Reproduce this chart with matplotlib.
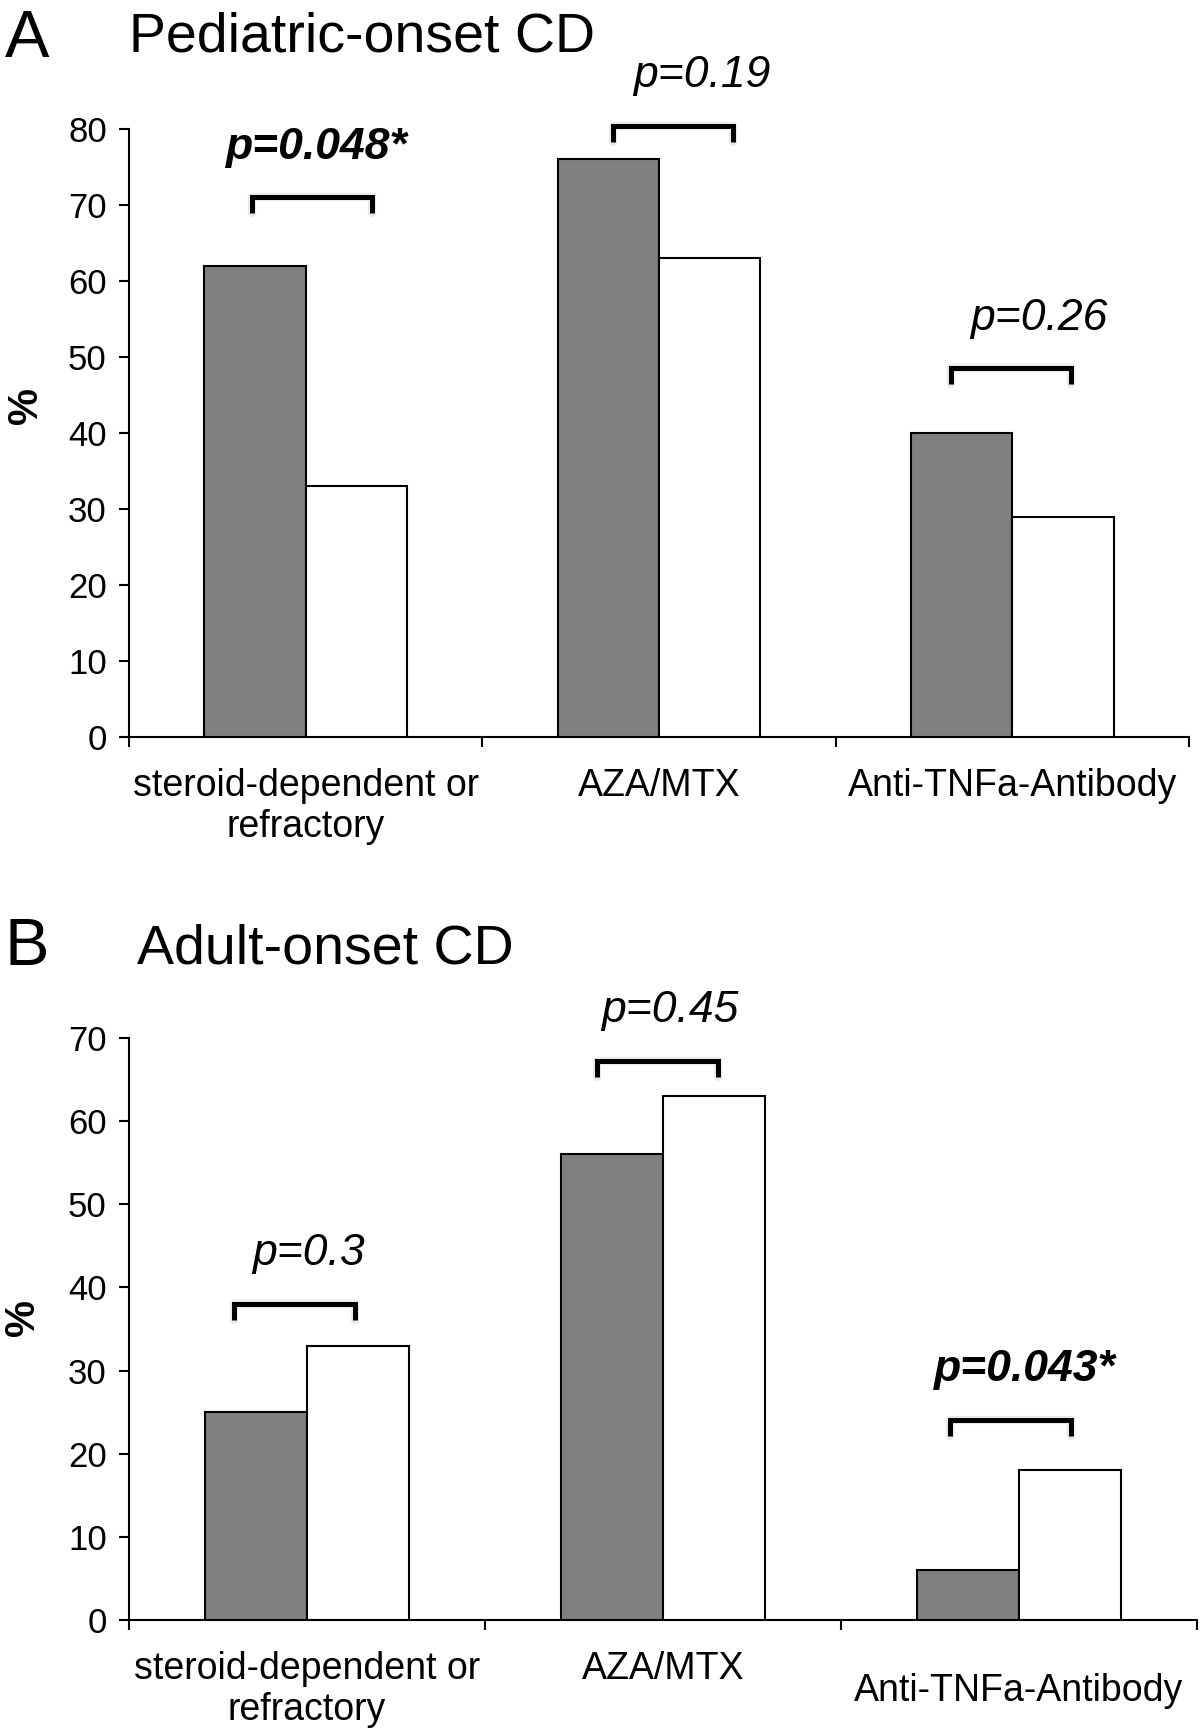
import numpy as np
import matplotlib
matplotlib.use("Agg")
import matplotlib.pyplot as plt

plt.rcParams['font.family'] = ['Liberation Sans', 'DejaVu Sans']

# data
categories = ["steroid-dependent or\nrefractory", "AZA/MTX", "Anti-TNFa-Antibody"]

ped_gray = [62, 76, 40]
ped_white = [33, 63, 29]
ped_pvals = ["p=0.048*", "p=0.19", "p=0.26"]
ped_signif = [True, False, False]
ped_bracket = [71, 80.4, 48.5]

adult_gray = [25, 56, 6]
adult_white = [33, 63, 18]
adult_pvals = ["p=0.3", "p=0.45", "p=0.043*"]
adult_signif = [False, False, True]
adult_bracket = [38, 67.2, 24.1]

W, H = 12, 17.3
fig = plt.figure(figsize=(W, H), dpi=100)

BAR_W = 0.287
GRAY = '#808080'


def px_to_fig_y(py):
    return 1 - py / (H * 100)


def draw_panel(ax, gray, white, pvals, signif, bracket, ymax,
               br_shift, txt_shift, label_drop):
    x = np.arange(len(categories))
    ax.bar(x - BAR_W / 2, gray, BAR_W, color=GRAY, edgecolor='black',
           linewidth=1.5, zorder=3)
    ax.bar(x + BAR_W / 2, white, BAR_W, color='white', edgecolor='black',
           linewidth=1.5, zorder=3)
    ax.set_xlim(-0.5, len(categories) - 0.5)
    ax.set_ylim(0, ymax)
    ax.set_yticks(np.arange(0, ymax + 1, 10))
    ax.tick_params(axis='y', labelsize=25, length=7, width=1.5, pad=9,
                   direction='out')
    # ticks at category boundaries, no labels
    ax.set_xticks(np.arange(-0.5, len(categories), 1.0))
    ax.set_xticklabels([])
    ax.tick_params(axis='x', length=7, width=1.5, direction='out')
    for s in ['top', 'right']:
        ax.spines[s].set_visible(False)
    for s in ['left', 'bottom']:
        ax.spines[s].set_linewidth(1.5)

    for i, cat in enumerate(categories):
        ax.annotate(cat, xy=(i, 0), xycoords=('data', 'axes fraction'),
                    xytext=(0, -22 - label_drop[i]), textcoords='offset points',
                    ha='center', va='top', fontsize=27, linespacing=1.2)

    # significance brackets
    ppu = ax.bbox.height / ymax
    drop = 16 / ppu
    for i, (p, sig, by) in enumerate(zip(pvals, signif, bracket)):
        xc = i + br_shift[i]
        xs = [xc - 0.17, xc - 0.17, xc + 0.17, xc + 0.17]
        ys = [by - drop, by, by, by - drop]
        ax.plot(xs, ys, color='#aaaaaa', lw=6, alpha=0.25,
                solid_joinstyle='round', solid_capstyle='round',
                clip_on=False, zorder=4)
        ax.plot(xs, ys, color='black', lw=3.6, solid_joinstyle='miter',
                solid_capstyle='butt', clip_on=False, zorder=5)
        ax.annotate(p, xy=(i + txt_shift[i], by), xytext=(0, 28),
                    textcoords='offset points', ha='center', va='baseline',
                    fontsize=32, style='italic',
                    fontweight='bold' if sig else 'normal',
                    annotation_clip=False)


# panel A
axA = fig.add_axes([129 / 1200, px_to_fig_y(737), 1060 / 1200, 608 / 1730])
draw_panel(axA, ped_gray, ped_white, ped_pvals, ped_signif, ped_bracket, 80,
           [0.018, 0.04, -0.005], [0.032, 0.12, 0.076], [0, 0, 0])

# panel B
axB = fig.add_axes([129 / 1200, px_to_fig_y(1620), 1068 / 1200, 582 / 1730])
draw_panel(axB, adult_gray, adult_white, adult_pvals, adult_signif,
           adult_bracket, 70,
           [-0.035, -0.015, -0.023], [0.003, 0.02, 0.017], [0, 0, 16])

# panel letters and titles
fig.text(5 / 1200, px_to_fig_y(57), "A", fontsize=48, va='baseline')
fig.text(129 / 1200, px_to_fig_y(52), "Pediatric-onset CD", fontsize=40,
         va='baseline')
fig.text(4 / 1200, px_to_fig_y(965), "B", fontsize=48, va='baseline')
fig.text(137 / 1200, px_to_fig_y(963), "Adult-onset CD", fontsize=40,
         va='baseline')

# y labels
fig.text(26 / 1200, px_to_fig_y(405), "%", fontsize=30, fontweight='bold',
         rotation=90, ha='center', va='center')
fig.text(23 / 1200, px_to_fig_y(1318), "%", fontsize=30, fontweight='bold',
         rotation=90, ha='center', va='center')

fig.savefig('out.png', dpi=100)
